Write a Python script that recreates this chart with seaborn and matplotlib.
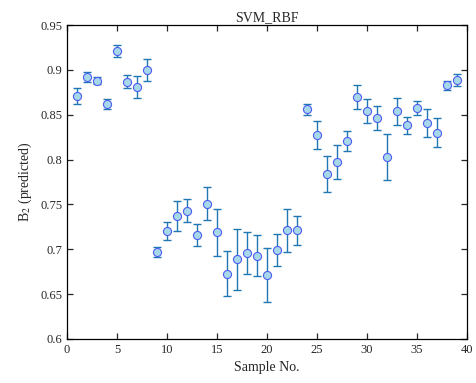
import numpy as np
import pandas as pd
import seaborn as sns
import matplotlib
matplotlib.use("Agg")
import matplotlib.pyplot as plt

sample_no = list(range(1, 40))
b2_pred = [0.871, 0.892, 0.888, 0.862, 0.921, 0.887, 0.881, 0.900,
           0.697, 0.720, 0.737, 0.743, 0.716, 0.751, 0.719, 0.673,
           0.689, 0.696, 0.693, 0.671, 0.699, 0.721, 0.721,
           0.856, 0.827, 0.784, 0.797, 0.821, 0.870, 0.854, 0.846,
           0.803, 0.854, 0.838, 0.857, 0.841, 0.830, 0.883, 0.889]
b2_err = [0.009, 0.0056, 0.004, 0.006, 0.0067, 0.007, 0.012, 0.012,
          0.0056, 0.010, 0.0167, 0.0125, 0.0125, 0.018, 0.026, 0.025,
          0.034, 0.023, 0.023, 0.030, 0.018, 0.0236, 0.016,
          0.006, 0.0155, 0.0197, 0.019, 0.011, 0.0134, 0.0136, 0.0134,
          0.026, 0.015, 0.0093, 0.0078, 0.0158, 0.016, 0.005, 0.0065]

df = pd.DataFrame({"Sample No.": sample_no, "B2": b2_pred, "err": b2_err})

sns.set_style("ticks")
plt.rcParams['font.family'] = ['Liberation Serif', 'DejaVu Serif']
plt.rcParams['mathtext.fontset'] = 'stix'

fig = plt.figure(figsize=(4.77, 3.83), dpi=100)
ax = fig.add_axes([0.1405, 0.1149, 0.8385, 0.8198])

ax.errorbar(df["Sample No."], df["B2"], yerr=df["err"], fmt='none',
            ecolor='#1f77b4', elinewidth=1.0, capsize=3, capthick=1.0, zorder=2)
sns.scatterplot(data=df, x="Sample No.", y="B2", ax=ax, s=34,
                color='#a6d8ea', edgecolor='#4f5cf0', linewidth=0.8, zorder=3)

ax.set_xlim(0, 40)
ax.set_ylim(0.6, 0.95)
ax.set_xticks([0, 5, 10, 15, 20, 25, 30, 35, 40])
ax.set_yticks([0.6, 0.65, 0.7, 0.75, 0.8, 0.85, 0.9, 0.95])
ax.set_yticklabels(['0.6', '0.65', '0.7', '0.75', '0.8', '0.85', '0.9', '0.95'])
ax.tick_params(direction='in', top=True, right=True, labelsize=9, length=4, width=0.9)
for sp in ax.spines.values():
    sp.set_linewidth(0.9)
    sp.set_color('black')
ax.set_xlabel("Sample No.", fontsize=10)
ax.set_ylabel(r"B$_2$ (predicted)", fontsize=10)
ax.set_title("SVM_RBF", fontsize=10, pad=3)

fig.savefig("out.png", dpi=100)
